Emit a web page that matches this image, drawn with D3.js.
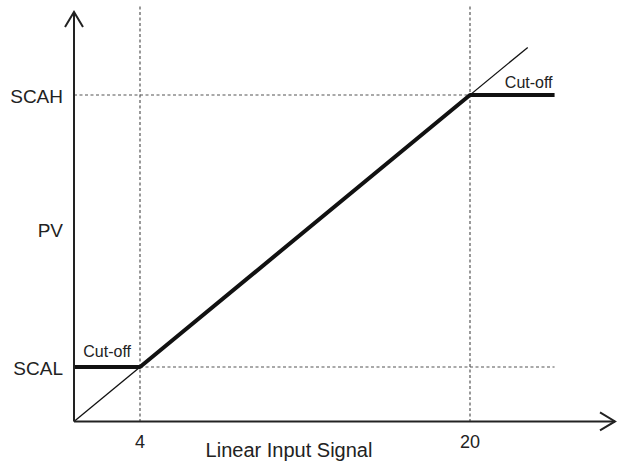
<!DOCTYPE html>
<html><head><meta charset="utf-8">
<script src="https://cdn.jsdelivr.net/npm/d3@7"></script>
<style>body{margin:0;background:#fff}svg{display:block}text{font-family:"Liberation Sans",Arial,sans-serif;fill:#222}</style>
</head><body>
<script>
// Data (abstract units: identity line PV = input)
const axisOrigin = 0.8;
const xTicks = [4, 20];
const xTickLabels = ["4", "20"];
const yLevels = [4, 20];
const yLevelLabels = ["SCAL", "SCAH"];
const pvLabelValue = 12.1;
const idealLine = [[0.8, 0.8], [22.8, 22.8]];
const pvLine = [[0.8, 4], [4, 4], [20, 20], [24.1, 20]];
const cutoffLabels = [{x: 4, y: 4, text: "Cut-off", side: "left"}, {x: 24.1, y: 20, text: "Cut-off", side: "right"}];
const xMax = 24.1, topDash = 25.2;

const W = 618, H = 465;
const x = d3.scaleLinear().domain([4, 20]).range([140, 470]);
const y = d3.scaleLinear().domain([4, 20]).range([367, 95]);
const svg = d3.select("body").append("svg").attr("width", W).attr("height", H);

const x0 = x(axisOrigin), y0 = y(axisOrigin);
const dash = {stroke: "#555", "stroke-width": 1.2, "stroke-dasharray": "3,2.5"};
function applyAttrs(sel, o){ for (const k in o) sel.attr(k, o[k]); return sel; }

// vertical dashed guides
xTicks.forEach(t => applyAttrs(svg.append("line").attr("x1", x(t)).attr("x2", x(t)).attr("y1", y(topDash)).attr("y2", y0), dash));
// horizontal dashed guides
applyAttrs(svg.append("line").attr("x1", x(4)).attr("x2", x(xMax)).attr("y1", y(4)).attr("y2", y(4)), dash);
applyAttrs(svg.append("line").attr("x1", x0).attr("x2", x(20)).attr("y1", y(20)).attr("y2", y(20)), dash);

const line = d3.line().x(d => x(d[0])).y(d => y(d[1]));
svg.append("path").attr("d", line(idealLine)).attr("fill", "none").attr("stroke", "#111").attr("stroke-width", 1.3);
svg.append("path").attr("d", line(pvLine)).attr("fill", "none").attr("stroke", "#111").attr("stroke-width", 4).attr("stroke-linejoin", "round");

// axes with arrows
const axCol = "#222";
svg.append("line").attr("x1", x0).attr("x2", x0).attr("y1", y0).attr("y2", 12).attr("stroke", axCol).attr("stroke-width", 2);
svg.append("path").attr("d", `M${x0-9},${27}L${x0},${12}L${x0+9},${27}`).attr("fill", "none").attr("stroke", axCol).attr("stroke-width", 2);
svg.append("line").attr("x1", x0).attr("x2", 615).attr("y1", y0).attr("y2", y0).attr("stroke", axCol).attr("stroke-width", 2);
svg.append("path").attr("d", `M${600},${y0-9}L${615},${y0}L${600},${y0+9}`).attr("fill", "none").attr("stroke", axCol).attr("stroke-width", 2);

// labels
xTicks.forEach((t, i) => svg.append("text").attr("x", x(t)).attr("y", 448).attr("text-anchor", "middle").attr("font-size", 18).text(xTickLabels[i]));
yLevels.forEach((v, i) => svg.append("text").attr("x", 63).attr("y", y(v) + 7.5).attr("text-anchor", "end").attr("font-size", 19).text(yLevelLabels[i]));
svg.append("text").attr("x", 63).attr("y", y(pvLabelValue) + 7.5).attr("text-anchor", "end").attr("font-size", 19).text("PV");
svg.append("text").attr("x", 289).attr("y", 457).attr("text-anchor", "middle").attr("font-size", 20).text("Linear Input Signal");
cutoffLabels.forEach(c => svg.append("text").attr("x", c.side === "left" ? x(c.x) - 9 : x(c.x) - 2).attr("y", c.side === "left" ? y(c.y) - 10 : y(c.y) - 7).attr("text-anchor", "end").attr("font-size", 16).text(c.text));
</script>
</body></html>
